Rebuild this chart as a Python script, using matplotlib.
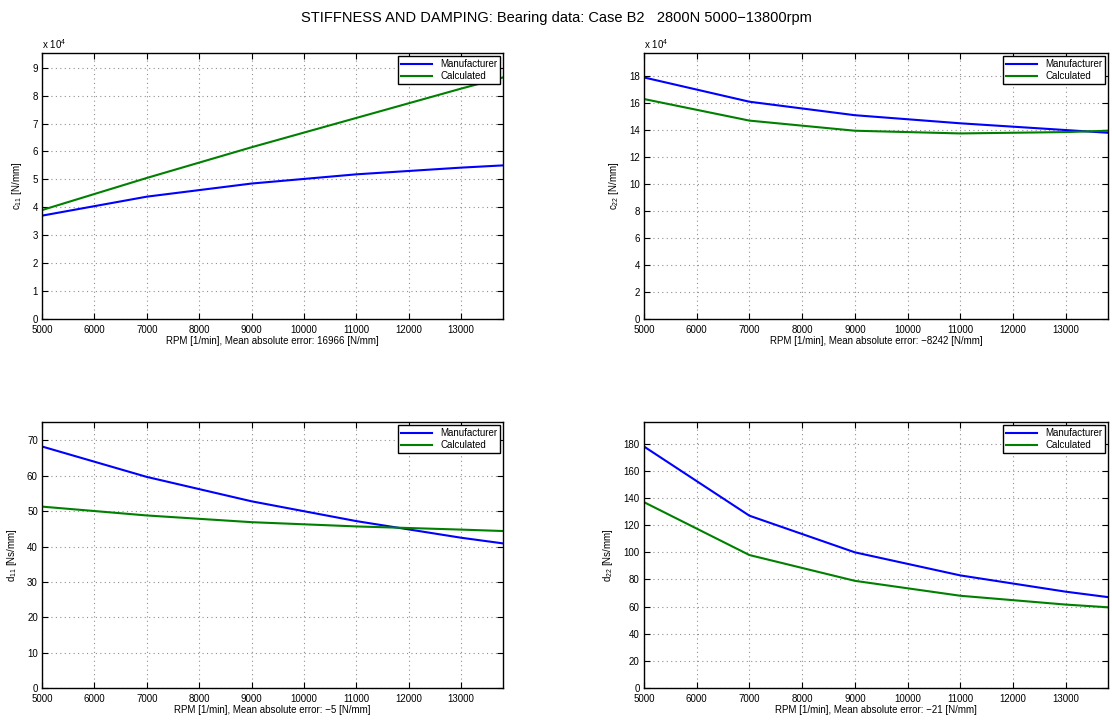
import numpy as np
import matplotlib
matplotlib.use("Agg")
import matplotlib.pyplot as plt
from matplotlib.ticker import MultipleLocator

plt.rcParams["font.family"] = ["Liberation Sans", "DejaVu Sans"]
plt.rcParams["mathtext.fontset"] = "custom"
plt.rcParams["mathtext.rm"] = "Liberation Sans"
plt.rcParams["mathtext.it"] = "Liberation Sans:italic"

# =========================
# data
# =========================
rpm = [5000, 7000, 9000, 11000, 13000, 13800]

c11_man = [37000, 43800, 48500, 51800, 54200, 55000]
c11_calc = [39000, 50500, 61500, 72000, 82500, 86500]

c22_man = [179000, 161000, 151000, 145000, 140000, 138000]
c22_calc = [163000, 147000, 139500, 137500, 138500, 139500]

d11_man = [68.3, 59.7, 52.8, 47.2, 42.5, 40.9]
d11_calc = [51.3, 48.8, 46.9, 45.7, 44.8, 44.4]

d22_man = [178, 127, 100, 83, 71, 67]
d22_calc = [137, 98, 79, 68, 61.5, 59.5]

panels = [
    # (manufacturer, calculated, ylabel, scale, ystep, error text)
    (c11_man, c11_calc, r"c$_{11}$ [N/mm]", 1e4, 1, "16966"),
    (c22_man, c22_calc, r"c$_{22}$ [N/mm]", 1e4, 2, "\u22128242"),
    (d11_man, d11_calc, r"d$_{11}$ [Ns/mm]", 1, 10, "\u22125"),
    (d22_man, d22_calc, r"d$_{22}$ [Ns/mm]", 1, 20, "\u221221"),
]

positions = [
    [0.0378, 0.557, 0.4146, 0.369],
    [0.5791, 0.557, 0.4173, 0.369],
    [0.0378, 0.0444, 0.4146, 0.369],
    [0.5791, 0.0444, 0.4173, 0.369],
]

fig = plt.figure(figsize=(11.12, 7.2), dpi=100)
fig.suptitle("STIFFNESS AND DAMPING: Bearing data: Case B2   2800N 5000\u221213800rpm",
             fontsize=10.5, y=0.985)

for (man, calc, ylab, scale, ystep, err), pos in zip(panels, positions):
    ax = fig.add_axes(pos)
    man_s = np.array(man) / scale
    calc_s = np.array(calc) / scale
    ax.plot(rpm, man_s, color="#0000ff", lw=1.5, label="Manufacturer")
    ax.plot(rpm, calc_s, color="#008000", lw=1.5, label="Calculated")
    ax.set_xlim(5000, 13800)
    ax.set_ylim(0, 1.1 * max(man_s.max(), calc_s.max()))
    ax.xaxis.set_major_locator(MultipleLocator(1000))
    ax.yaxis.set_major_locator(MultipleLocator(ystep))
    ax.grid(True, linestyle=(0, (1, 3)), color="#909090", lw=0.8)
    ax.tick_params(direction="in", top=True, right=True, labelsize=7,
                   length=4, width=0.8)
    ax.tick_params(axis="x", pad=4.5)
    ax.tick_params(axis="y", pad=3)
    for sp in ax.spines.values():
        sp.set_linewidth(1.0)
    ax.set_xlabel(f"RPM [1/min], Mean absolute error: {err} [N/mm]",
                  fontsize=7, labelpad=0.5)
    ax.set_ylabel(ylab, fontsize=7, labelpad=6)
    if scale != 1:
        ax.text(0.0, 1.01, r"x 10$^4$", transform=ax.transAxes,
                fontsize=7, ha="left", va="bottom")
    leg = ax.legend(loc="upper right", fontsize=7, fancybox=False,
                    framealpha=1, edgecolor="black", borderpad=0.3,
                    handlelength=3.2, labelspacing=0.2, borderaxespad=0.3)
    leg.get_frame().set_linewidth(1.0)

fig.savefig("out.png", dpi=100)
